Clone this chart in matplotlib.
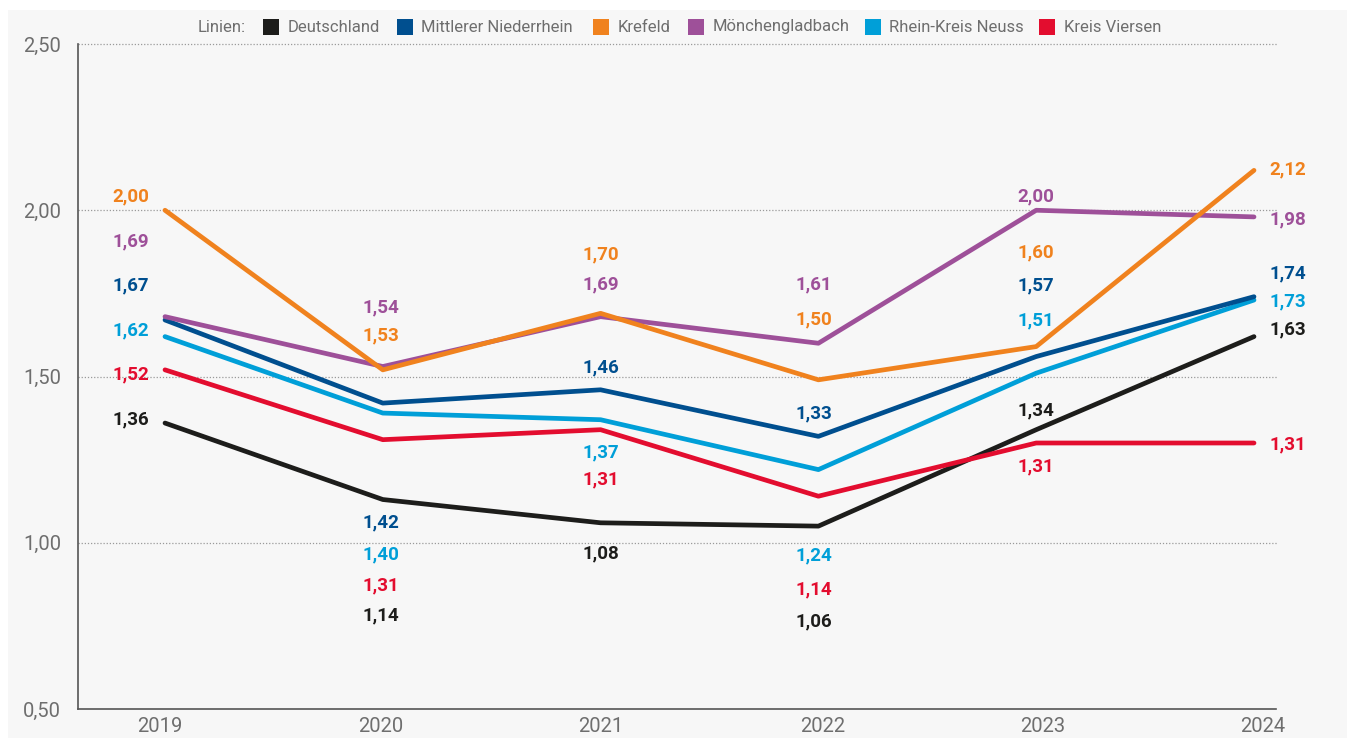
import matplotlib
matplotlib.use("Agg")
import matplotlib.pyplot as plt
from matplotlib.patches import Rectangle
import numpy as np

# ---------------- data ----------------
years = ["2019", "2020", "2021", "2022", "2023", "2024"]
series_names = ["Deutschland", "Mittlerer Niederrhein", "Krefeld",
                "Mönchengladbach", "Rhein-Kreis Neuss", "Kreis Viersen"]

deutschland = [1.36, 1.13, 1.06, 1.05, 1.34, 1.62]
mittlerer_niederrhein = [1.67, 1.42, 1.46, 1.32, 1.56, 1.74]
krefeld = [2.00, 1.52, 1.69, 1.49, 1.59, 2.12]
moenchengladbach = [1.68, 1.53, 1.68, 1.60, 2.00, 1.98]
rhein_kreis_neuss = [1.62, 1.39, 1.37, 1.22, 1.51, 1.73]
kreis_viersen = [1.52, 1.31, 1.34, 1.14, 1.30, 1.30]

# value labels as printed in the chart
labels_deutschland = ["1,36", "1,14", "1,08", "1,06", "1,34", "1,63"]
labels_mittlerer = ["1,67", "1,42", "1,46", "1,33", "1,57", "1,74"]
labels_krefeld = ["2,00", "1,53", "1,70", "1,50", "1,60", "2,12"]
labels_mg = ["1,69", "1,54", "1,69", "1,61", "2,00", "1,98"]
labels_rkn = ["1,62", "1,40", "1,37", "1,24", "1,51", "1,73"]
labels_kv = ["1,52", "1,31", "1,31", "1,14", "1,31", "1,31"]

y_ticks = [0.5, 1.0, 1.5, 2.0, 2.5]
y_ticklabels = ["0,50", "1,00", "1,50", "2,00", "2,50"]

# ---------------- layout / style ----------------
colors = ["#1d1d1b", "#004f8f", "#f0821e", "#9e5099", "#009fd8", "#e30d2f"]
values = [deutschland, mittlerer_niederrhein, krefeld, moenchengladbach,
          rhein_kreis_neuss, kreis_viersen]
label_texts = [labels_deutschland, labels_mittlerer, labels_krefeld,
               labels_mg, labels_rkn, labels_kv]

# label vertical positions (data units) per series, per year
label_y = [
    [1.372, 0.780, 0.969, 0.762, 1.399, 1.643],   # Deutschland
    [1.775, 1.062, 1.526, 1.390, 1.775, 1.811],   # Mittlerer Niederrhein
    [2.043, 1.625, 1.868, 1.673, 1.874, 2.124],   # Krefeld
    [1.907, 1.709, 1.778, 1.778, 2.043, 1.971],   # Mönchengladbach
    [1.640, 0.966, 1.273, 0.963, 1.670, 1.727],   # Rhein-Kreis Neuss
    [1.505, 0.873, 1.189, 0.861, 1.231, 1.297],   # Kreis Viersen
]
label_x = [-0.156, 0.99, 2.0, 2.98, 4.0, 5.07]
label_ha = ["center"] * 5 + ["left"]
tick_x = [-0.023, 0.99, 2.0, 3.02, 4.03, 5.04]
draw_order = [0, 5, 4, 1, 3, 2]

FONT = "Roboto"
GRAY = "#6e6e6e"

W, H = 1350, 738
fig = plt.figure(figsize=(W / 100, H / 100), dpi=100, facecolor="white")

# light panel background
fig.patches.append(Rectangle((8 / W, 0), (1347 - 8) / W, 1 - 10 / H,
                             transform=fig.transFigure, facecolor="#f7f7f7",
                             edgecolor="none", zorder=-10))

ax_left, ax_right = 78 / W, 1276 / W
ax_bottom, ax_top = 1 - 709 / H, 1 - 44 / H
ax = fig.add_axes([ax_left, ax_bottom, ax_right - ax_left, ax_top - ax_bottom])
ax.set_facecolor("none")

x = np.arange(len(years))
px_per_unit = (1254 - 165) / 5
ax.set_xlim(-(165 - 78) / px_per_unit, 5 + (1276 - 1254) / px_per_unit)
ax.set_ylim(0.5, 2.5)

# grid lines
for yv in y_ticks[1:]:
    ax.axhline(yv, color="#9a9a9a", lw=0.9, ls=(0, (1, 1.5)), zorder=1,
               xmax=1.0 + 2 / (1276 - 78), clip_on=False)

for i in draw_order:
    ax.plot(x, values[i], color=colors[i], lw=3.4, solid_capstyle="round",
            solid_joinstyle="round", zorder=3)

for i in range(len(values)):
    for j in range(len(years)):
        ax.text(label_x[j], label_y[i][j], label_texts[i][j], color=colors[i],
                fontsize=13.5, fontweight="bold", family=FONT,
                ha=label_ha[j], va="center", zorder=5)

# axes styling
for s in ["top", "right"]:
    ax.spines[s].set_visible(False)
ax.spines["left"].set_color("#555555")
ax.spines["bottom"].set_color("#555555")
ax.spines["left"].set_linewidth(1.2)
ax.spines["bottom"].set_linewidth(1.2)

ax.set_yticks(y_ticks)
ax.set_yticklabels(y_ticklabels)
ax.set_xticks(tick_x)
ax.set_xticklabels(years)
ax.tick_params(axis="both", length=0, colors=GRAY, labelsize=14.5)
ax.tick_params(axis="y", pad=12)
ax.tick_params(axis="x", pad=6)
for lab in ax.get_xticklabels() + ax.get_yticklabels():
    lab.set_family(FONT)

# legend (manual)
ly = 1 - 27 / H
fig.text(198 / W, ly, "Linien:", color=GRAY, fontsize=12, family=FONT,
         ha="left", va="center")
square_x = [263, 397, 593, 688, 865, 1039]
text_x = [288, 421, 618, 713, 889, 1064]
for i, name in enumerate(series_names):
    fig.patches.append(Rectangle((square_x[i] / W, 1 - 35 / H), 16 / W, 16 / H,
                                 transform=fig.transFigure,
                                 facecolor=colors[i], edgecolor="none"))
    fig.text(text_x[i] / W, ly, name, color=GRAY, fontsize=12, family=FONT,
             ha="left", va="center")

fig.savefig("out.png", dpi=100, facecolor="white")
